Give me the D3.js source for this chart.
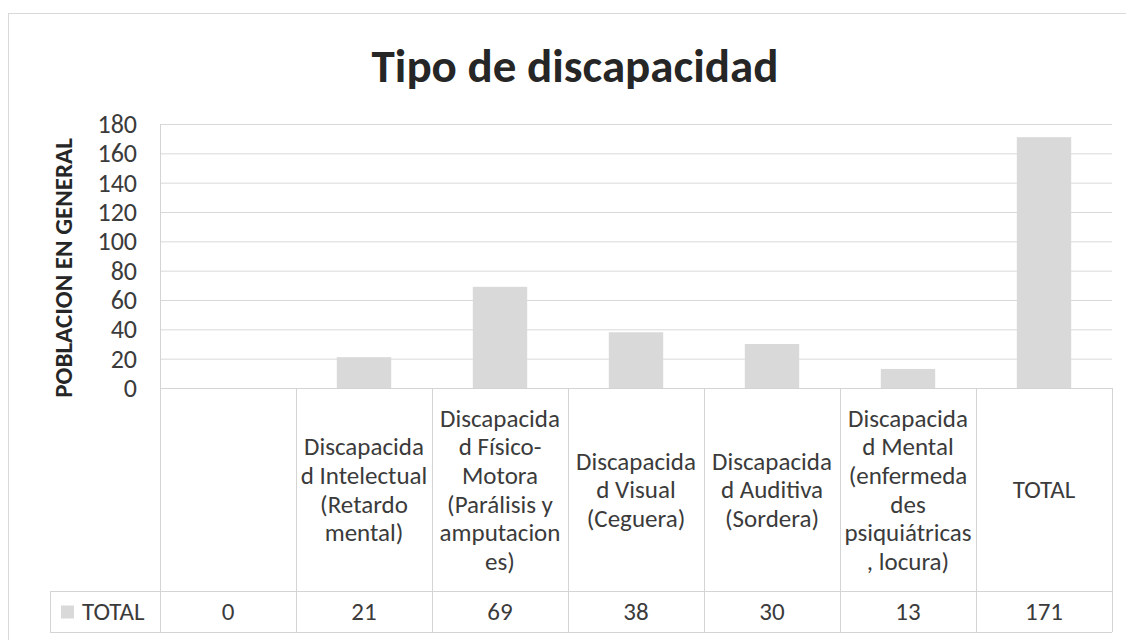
<!DOCTYPE html>
<html lang="es">
<head>
    <meta charset="UTF-8">
    <title>Tipo de discapacidad</title>
    <script src="https://cdnjs.cloudflare.com/ajax/libs/d3/7.8.5/d3.min.js"></script>
    <style>
        body {
            margin: 0;
            background: #fff;
        }
        svg text {
            font-family: Carlito, Lato, "Open Sans", sans-serif;
            fill: #3b3b3b;
        }
        .grid line {
            stroke: #d9d9d9;
            stroke-width: 1;
        }
        .grid path {
            display: none;
        }
        .table-line {
            stroke: #d4d4d4;
            stroke-width: 1;
        }
    </style>
</head>
<body>
    <div id="chart"></div>

    <script>
        // Data
        const categories = [
            [],
            ["Discapacida", "d Intelectual", "(Retardo", "mental)"],
            ["Discapacida", "d Físico-", "Motora", "(Parálisis y", "amputacion", "es)"],
            ["Discapacida", "d Visual", "(Ceguera)"],
            ["Discapacida", "d Auditiva", "(Sordera)"],
            ["Discapacida", "d Mental", "(enfermeda", "des", "psiquiátricas", ", locura)"],
            ["TOTAL"]
        ];
        const values = [0, 21, 69, 38, 30, 13, 171];
        const yTicks = [0, 20, 40, 60, 80, 100, 120, 140, 160, 180];
        const seriesName = "TOTAL";

        const width = 1126;
        const height = 640;
        const barColor = "#d9d9d9";

        // Plot area
        const plotLeft = 160, plotRight = 1112;
        const plotTop = 124, plotBottom = 388;
        // Data table rows
        const tableLeft = 50;
        const catRowBottom = 591;
        const valRowBottom = 632;
        const tableFont = "25px";

        const svg = d3.select("#chart").append("svg")
            .attr("width", width)
            .attr("height", height);

        // Outer chart border
        svg.append("rect")
            .attr("x", 8.5).attr("y", 13.5)
            .attr("width", 1140).attr("height", 700)
            .attr("fill", "none")
            .attr("stroke", "#d9d9d9");

        const x = d3.scaleBand()
            .domain(d3.range(values.length))
            .range([plotLeft, plotRight])
            .paddingInner(0.6)
            .paddingOuter(0.3);

        const xCol = d3.scaleBand()
            .domain(d3.range(values.length))
            .range([plotLeft, plotRight]);

        const y = d3.scaleLinear()
            .domain([0, 180])
            .range([plotBottom, plotTop]);

        // Title
        svg.append("text")
            .attr("x", 575)
            .attr("y", 82)
            .attr("text-anchor", "middle")
            .style("font-size", "47px")
            .style("font-weight", "bold")
            .style("fill", "#262626")
            .text("Tipo de discapacidad");

        // Gridlines
        svg.append("g")
            .attr("class", "grid")
            .attr("transform", `translate(${plotLeft},0)`)
            .call(d3.axisLeft(y).tickValues(yTicks).tickSize(-(plotRight - plotLeft)).tickFormat(""));

        // Y tick labels
        svg.append("g")
            .selectAll("text")
            .data(yTicks)
            .enter().append("text")
            .attr("x", 137)
            .attr("y", d => y(d))
            .attr("dy", "0.35em")
            .attr("text-anchor", "end")
            .style("font-size", "26px")
            .text(d => d);

        // Y axis title
        svg.append("text")
            .attr("transform", `translate(72,268) rotate(-90)`)
            .attr("text-anchor", "middle")
            .style("font-size", "25px")
            .style("font-weight", "bold")
            .style("fill", "#262626")
            .text("POBLACION EN GENERAL");

        // Bars
        svg.append("g")
            .selectAll("rect")
            .data(values)
            .enter().append("rect")
            .attr("x", (d, i) => x(i))
            .attr("y", d => y(d))
            .attr("width", x.bandwidth())
            .attr("height", d => y(0) - y(d))
            .attr("fill", barColor);

        // Data table lines
        const tbl = svg.append("g");
        // plot left edge
        tbl.append("line").attr("class", "table-line")
            .attr("x1", plotLeft + 0.5).attr("x2", plotLeft + 0.5)
            .attr("y1", plotTop).attr("y2", valRowBottom);
        // horizontal lines
        tbl.append("line").attr("class", "table-line")
            .attr("x1", plotLeft).attr("x2", plotRight)
            .attr("y1", plotBottom + 0.5).attr("y2", plotBottom + 0.5);
        [catRowBottom, valRowBottom].forEach(yy => {
            tbl.append("line").attr("class", "table-line")
                .attr("x1", tableLeft).attr("x2", plotRight)
                .attr("y1", yy + 0.5).attr("y2", yy + 0.5);
        });
        tbl.append("line").attr("class", "table-line")
            .attr("x1", tableLeft + 0.5).attr("x2", tableLeft + 0.5)
            .attr("y1", catRowBottom).attr("y2", valRowBottom);
        // column separators
        d3.range(values.length).forEach(i => {
            const xx = Math.round(xCol(i) + xCol.bandwidth()) + 0.5;
            tbl.append("line").attr("class", "table-line")
                .attr("x1", xx).attr("x2", xx)
                .attr("y1", plotBottom).attr("y2", valRowBottom);
        });

        // Category labels (wrapped as in the original)
        const lineH = 28.7;
        const catMid = (plotBottom + catRowBottom) / 2;
        categories.forEach((lines, i) => {
            const cx = xCol(i) + xCol.bandwidth() / 2;
            const t = svg.append("text")
                .attr("text-anchor", "middle")
                .style("font-size", tableFont);
            lines.forEach((ln, j) => {
                t.append("tspan")
                    .attr("x", cx)
                    .attr("y", catMid + (j - (lines.length - 1) / 2) * lineH)
                    .attr("dy", "0.35em")
                    .text(ln);
            });
        });

        // Value row
        const valMid = (catRowBottom + valRowBottom) / 2;
        svg.append("g")
            .selectAll("text")
            .data(values)
            .enter().append("text")
            .attr("x", (d, i) => xCol(i) + xCol.bandwidth() / 2)
            .attr("y", valMid)
            .attr("dy", "0.35em")
            .attr("text-anchor", "middle")
            .style("font-size", tableFont)
            .text(d => d);

        // Legend key inside the table
        svg.append("rect")
            .attr("x", 61).attr("y", valMid - 6)
            .attr("width", 13).attr("height", 13)
            .attr("fill", barColor);
        svg.append("text")
            .attr("x", 82)
            .attr("y", valMid)
            .attr("dy", "0.35em")
            .style("font-size", tableFont)
            .text(seriesName);
    </script>
</body>
</html>
